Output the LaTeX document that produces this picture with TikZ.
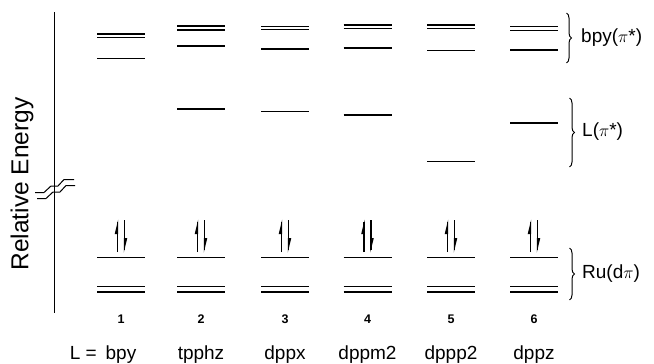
\documentclass[tikz,border=0pt]{standalone}
\usepackage{fontspec}
\setmainfont{Liberation Sans}
\usetikzlibrary{decorations.pathreplacing}
\begin{document}
\begin{tikzpicture}[x=1pt,y=-1pt,
  lvl/.style={line width=1.4pt},
  axisline/.style={line width=1pt},
  bracestyle/.style={line width=1pt,decorate,decoration={brace,amplitude=5pt}},
  numlbl/.style={font=\bfseries\fontsize{12.5}{13}\selectfont,anchor=base,inner sep=0pt},
  ligand/.style={font=\fontsize{19}{20}\selectfont,anchor=base,inner sep=0pt},
  grouplbl/.style={font=\fontsize{19}{20}\selectfont,anchor=west,inner sep=0pt},
  spin/.style={line width=1.4pt}]
\useasboundingbox (0,0) rectangle (654,364);
% axis
\coordinate (axtop) at (54.5,12);
\coordinate (axbot) at (54.5,313);
\draw[axisline] (axtop) -- (axbot);
% axis break
\draw[line width=1pt] (35,192.5) -- (44,192.5) -- (51,186) -- (58,186) -- (64,179.5) -- (74,179.5);
\draw[line width=1pt] (37,198.5) -- (46,198.5) -- (53,192) -- (60,192) -- (66,185.5) -- (75,185.5);
\node[rotate=90,font=\fontsize{24.5}{25}\selectfont,inner sep=0pt] (ylab) at (22,184) {Relative Energy};
% columns: center / top1 / top2 / single / L
\foreach \c/\a/\b/\s/\L/\n/\name in {121/34/37.5/58.5/-1/1/bpy, 201/26/30/46/109/2/tpphz, 285/26.5/29.5/49/111.5/3/dppx, 367.5/25/28.5/48/115/4/dppm2, 451/25/28.5/50.5/161.5/5/dppp2, 534/26.5/30.5/50/123/6/dppz}{
  \draw[lvl] (\c-24,\a) -- (\c+24,\a);
  \draw[lvl] (\c-24,\b) -- (\c+24,\b);
  \draw[lvl] (\c-24,\s) -- (\c+24,\s);
  \ifdim \L pt>0pt \draw[lvl] (\c-24,\L) -- (\c+24,\L); \fi
  % Ru(d pi)
  \draw[lvl] (\c-24,257.5) -- (\c+24,257.5);
  \draw[lvl] (\c-24,286.5) -- (\c+24,286.5);
  \draw[lvl] (\c-24,292) -- (\c+24,292);
  % spin pair
  \draw[spin] (\c-3.5,252) -- (\c-3.5,222);
  \fill (\c-2.8,219.5) -- (\c-2.8,234) -- (\c-6.3,234) -- cycle;
  \draw[spin] (\c+3.5,220) -- (\c+3.5,250);
  \fill (\c+2.8,252.5) -- (\c+2.8,238) -- (\c+6.3,238) -- cycle;
  \node[numlbl] (num\n) at (\c,323) {\n};
  \node[ligand] (lig\n) at (\c,359) {\name};
}
\node[ligand,anchor=base east] (leq) at (97,359) {L =};
% braces
\coordinate (b1t) at (566.5,13);  \coordinate (b1b) at (566.5,63);
\coordinate (b2t) at (569.5,98);  \coordinate (b2b) at (569.5,167);
\coordinate (b3t) at (569.5,248); \coordinate (b3b) at (569.5,300);
\draw[bracestyle] (b1t) -- (b1b);
\draw[bracestyle] (b2t) -- (b2b);
\draw[bracestyle] (b3t) -- (b3b);
\node[grouplbl] (g1) at (581,38) {bpy($\pi$*)};
\node[grouplbl] (g2) at (582,132) {L($\pi$*)};
\node[grouplbl] (g3) at (582,274) {Ru(d$\pi$)};
\end{tikzpicture}
\end{document}
